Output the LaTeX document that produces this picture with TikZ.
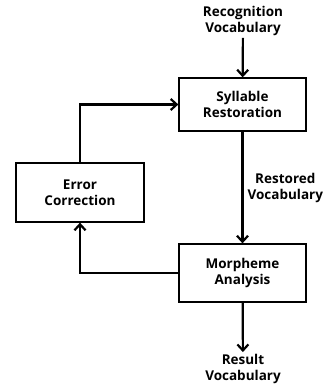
\documentclass[tikz,border=0pt]{standalone}
\usepackage{fontspec}
\setmainfont{Open Sans}
\usetikzlibrary{arrows.meta, positioning}

\begin{document}
\begin{tikzpicture}[x=1pt, y=1pt, >={Straight Barb[length=6pt, width=11pt]},
    font=\fontsize{13.5}{16}\selectfont\bfseries,
    block/.style={draw, line width=1.3pt, align=center, minimum width=127pt},
    flow/.style={->, line width=2.2pt},
    txt/.style={align=center, inner sep=2pt}]
    \useasboundingbox (0,0) rectangle (328,-388);
    \node[txt] (rec) at (243,-21) {Recognition\\Vocabulary};
    \node[block, minimum height=53pt] (syl) at (242.5,-104.5) {Syllable\\Restoration};
    \node[block, minimum width=128pt, minimum height=59pt] (err) at (80,-192.5) {Error\\Correction};
    \node[block, minimum height=58pt] (mor) at (242.5,-273) {Morpheme\\Analysis};
    \node[txt] (res) at (243,-369) {Result\\Vocabulary};

    \draw[flow] (rec) -- (syl);
    \draw[flow] (syl) -- node[txt, right=2pt] {Restored\\Vocabulary} (mor);
    \draw[flow] (mor) -- (res);
    \draw[flow] (mor.west) -| (err.south);
    \draw[flow] (err.north) |- (syl.west);
\end{tikzpicture}
\end{document}
